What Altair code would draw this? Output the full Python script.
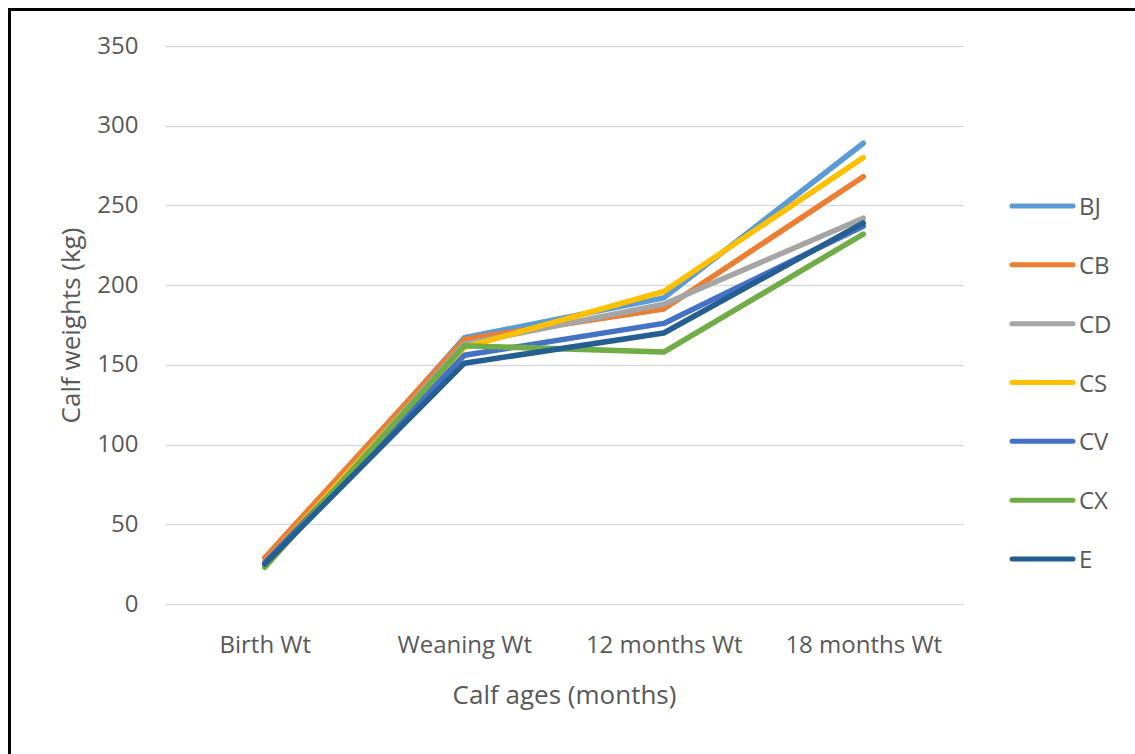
import altair as alt
import pandas as pd

# Calf weight by age for each breed group
ages = ["Birth Wt", "Weaning Wt", "12 months Wt", "18 months Wt"]
breeds = ["BJ", "CB", "CD", "CS", "CV", "CX", "E"]
bj = [26, 167, 192, 289]
cb = [29, 166, 185, 268]
cd = [25, 163, 188, 242]
cs = [26, 161, 196, 280]
cv = [26, 156, 176, 237]
cx = [23, 162, 158, 232]
e = [25, 151, 170, 239]
colors = ["#5B9BD5", "#ED7D31", "#A5A5A5", "#FFC000", "#4472C4", "#70AD47", "#255E91"]

series = [bj, cb, cd, cs, cv, cx, e]
rows = []
for k, (name, vals) in enumerate(zip(breeds, series)):
    for age, v in zip(ages, vals):
        rows.append({"breed": name, "age": age, "weight": v, "order": k})
df = pd.DataFrame(rows)
legend_df = pd.DataFrame({"breed": breeds})

FONT = "Open Sans"
TXT = "#595959"
W, H = 798, 558
PAD_L, PAD_T, PAD_R, PAD_B = 165, 46, 172, 150

color_scale = alt.Scale(domain=breeds, range=colors)

lines = alt.Chart(df).mark_line(strokeWidth=5.5, strokeCap="round", strokeJoin="round").encode(
    x=alt.X("age:N", sort=ages, scale=alt.Scale(type="point", padding=0.5),
            axis=alt.Axis(title="Calf ages (months)", labelAngle=0, domain=False, ticks=False,
                          grid=False, labelPadding=29, titlePadding=25)),
    y=alt.Y("weight:Q", scale=alt.Scale(domain=[0, 350], nice=False),
            axis=alt.Axis(title="Calf weights (kg)", values=list(range(0, 351, 50)),
                          domain=False, ticks=False, labelPadding=27, titlePadding=12,
                          gridColor="#D9D9D9", gridWidth=1.5)),
    color=alt.Color("breed:N", scale=color_scale, legend=None),
    detail="breed:N",
    order="order:Q",
)

# Hand-laid legend: short line swatch plus label for each breed
leg_y = alt.Y("breed:N", sort=breeds,
              scale=alt.Scale(type="point", domain=breeds, range=[160, 513], padding=0),
              axis=None)
leg_lines = alt.Chart(legend_df).mark_rule(strokeWidth=5, strokeCap="round").encode(
    x=alt.value(847), x2=alt.value(908), y=leg_y,
    color=alt.Color("breed:N", scale=color_scale, legend=None),
)
leg_text = alt.Chart(legend_df).mark_text(
    align="left", baseline="middle", dy=2, fontSize=24, font=FONT, color=TXT
).encode(x=alt.value(914), y=leg_y, text="breed:N")

# Frame along the top and left edges
top_edge = alt.Chart(legend_df).mark_rule(color="black", strokeWidth=3).encode(
    x=alt.value(-PAD_L + 8), x2=alt.value(W + PAD_R), y=alt.value(-PAD_T + 9.5)
)
left_edge = alt.Chart(legend_df).mark_rule(color="black", strokeWidth=3).encode(
    x=alt.value(-PAD_L + 9.5), y=alt.value(-PAD_T + 8), y2=alt.value(H + PAD_B)
)

chart = alt.layer(lines, leg_lines, leg_text, top_edge, left_edge).resolve_scale(
    y="independent"
).properties(
    width=W, height=H,
    autosize=alt.AutoSizeParams(type="none"),
    padding={"left": PAD_L, "top": PAD_T, "right": PAD_R, "bottom": PAD_B},
    background="white",
).configure_view(stroke=None).configure_axis(
    labelFont=FONT, titleFont=FONT, labelColor=TXT, titleColor=TXT,
    labelFontSize=24, titleFontSize=26, titleFontWeight="normal",
)

chart.save("out.html", embed_options={"renderer": "svg", "actions": False})
